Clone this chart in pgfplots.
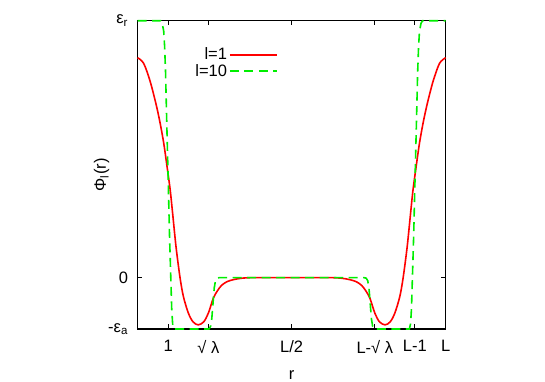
\documentclass[border=0pt]{standalone}
\usepackage{fontspec}
\setmainfont{Liberation Sans}
\usepackage{pgfplots}
\pgfplotsset{compat=1.18}
\definecolor{gpred}{RGB}{255,0,0}
\definecolor{gpgreen}{RGB}{0,238,0}

\begin{document}
\begin{tikzpicture}
\begin{axis}[
    name=main, at={(0,0)}, anchor=south west,
    scale only axis, width=308.2bp, height=308.3bp,
    xmin=0, xmax=10, ymin=-1, ymax=5,
    clip=false,
    axis line style={line width=1.2bp},
    every tick/.style={black, line width=1bp},
    major tick length=4.5bp,
    tick align=inside,
    xtick={1,2.3,5,7.7,9,10},
    xticklabels={1,√ λ,L/2,L-√ λ,L-1,L},
    ytick={-1,0,5},
    yticklabels={-ε\textsubscript{a},0,ε\textsubscript{r}},
    tick label style={font=\fontsize{16.5bp}{19bp}\selectfont},
    label style={font=\fontsize{16.5bp}{19bp}\selectfont},
    xticklabel style={yshift=-8bp},
    yticklabel style={xshift=-6bp},
    xlabel={r}, ylabel={Φ\textsubscript{l}(r)},
    xlabel style={yshift=-10bp},
    ylabel style={yshift=-8bp},
    legend style={at={(axis cs:4.65,4.55)}, anchor=north east, draw=none, fill=none,
        font=\fontsize{16.5bp}{18bp}\selectfont, row sep=-1bp},
    legend cell align=right,
    legend plot pos=right,
    legend image code/.code={\draw[#1] (0bp,0bp) -- (47bp,0bp);},
]
\addplot[gpred, line width=1.6bp, smooth] coordinates {
(0,4.28)(0.2,4.17)(0.41,3.82)(0.6,3.38)(0.73,3.02)(0.85,2.62)(0.95,2.2)(1.06,1.71)(1.14,1.25)(1.25,0.6)(1.38,0)(1.49,-0.37)(1.65,-0.69)(1.8,-0.86)(1.97,-0.92)(2.15,-0.86)(2.3,-0.69)(2.46,-0.4)(2.6,-0.25)(2.73,-0.15)(2.9,-0.08)(3.11,-0.04)(3.4,-0.01)(3.8,0)(5,0)
(6.2,0)(6.6,-0.01)(6.89,-0.04)(7.1,-0.08)(7.27,-0.15)(7.4,-0.25)(7.54,-0.4)(7.7,-0.69)(7.85,-0.86)(8.03,-0.92)(8.2,-0.86)(8.35,-0.69)(8.51,-0.37)(8.62,0)(8.75,0.6)(8.86,1.25)(8.94,1.71)(9.05,2.2)(9.15,2.62)(9.27,3.02)(9.4,3.38)(9.59,3.82)(9.8,4.17)(10,4.28)
};
\addlegendentry{l=1}
\addplot[gpgreen, line width=1.6bp, dash pattern=on 9bp off 5.5bp] coordinates {
(0,5)(0.75,5)(0.8,4.95)(0.85,4.8)(0.88,4.5)(0.91,4.0)(0.95,3.0)(1.0,1.8)(1.04,0.8)(1.08,0)(1.11,-0.6)(1.14,-0.9)(1.18,-1)(2.32,-1)(2.37,-0.95)(2.41,-0.8)(2.45,-0.5)(2.49,-0.2)(2.53,-0.06)(2.58,-0.01)(2.66,0)(5,0)
(7.34,0)(7.42,-0.01)(7.47,-0.06)(7.51,-0.2)(7.55,-0.5)(7.59,-0.8)(7.63,-0.95)(7.68,-1)(8.82,-1)(8.86,-0.9)(8.89,-0.6)(8.92,0)(8.96,0.8)(9.0,1.8)(9.05,3.0)(9.09,4.0)(9.12,4.5)(9.15,4.8)(9.2,4.95)(9.25,5)(10,5)
};
\addlegendentry{l=10}
\end{axis}
\pgfresetboundingbox
\path[use as bounding box] (-137.5bp,-53bp) rectangle (407.5bp,329bp);
\end{tikzpicture}
\end{document}
